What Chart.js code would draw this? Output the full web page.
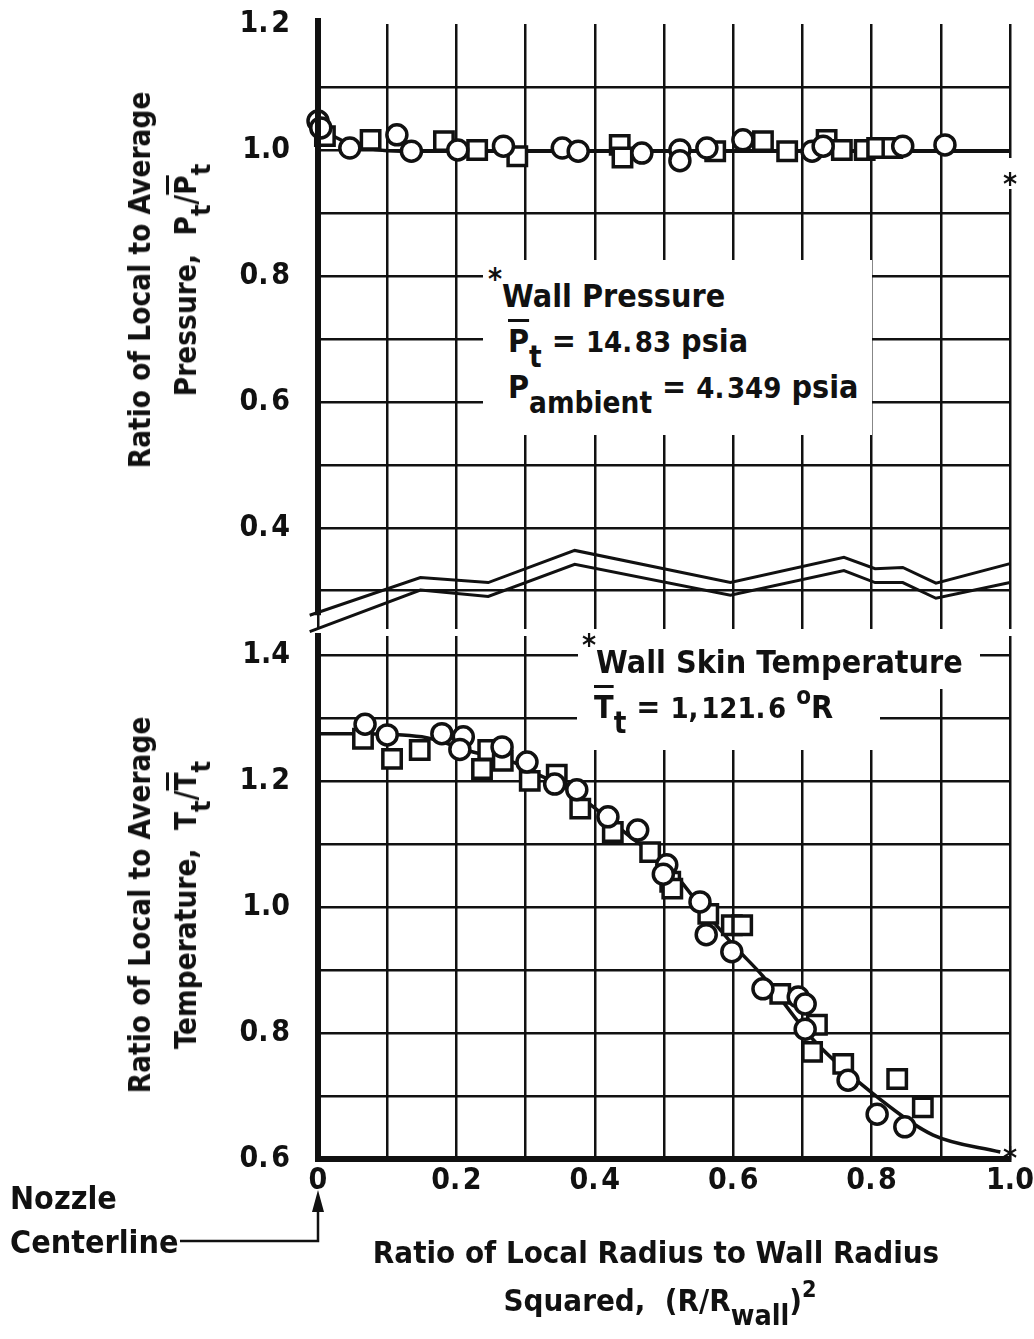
<!DOCTYPE html>
<html>
<head>
<meta charset="utf-8">
<title>Nozzle exit pressure and temperature profiles</title>
<script src="https://cdn.jsdelivr.net/npm/chart.js@4.4.1/dist/chart.umd.min.js"></script>
<style>
  body { margin: 0; background: #fff; }
  #page { position: relative; width: 1034px; height: 1339px; overflow: hidden;
          font-family: 'DejaVu Sans Condensed', 'DejaVu Sans', sans-serif; font-weight: bold; color: #111; }
  .panel { position: absolute; left: 0; width: 1034px; }
  #top { top: 0; height: 645px; }
  #bottom { top: 600px; height: 739px; }
  .txt { position: absolute; white-space: nowrap; font-size: 32px; line-height: 32px; }
  .box { position: absolute; background: #fff; }
  .bar { text-decoration: overline; text-decoration-thickness: 3px; }
  .num { font-size: 29px; }
  sub { font-size: 92%; vertical-align: -0.5em; line-height: 0; }
  sup { font-size: 75%; vertical-align: 0.6em; line-height: 0; }
  .star { font-size: 30px; vertical-align: 0.6em; line-height: 0; }
  .ytitle { position: absolute; transform: translate(-50%, -50%) rotate(-90deg);
            text-align: center; white-space: nowrap; font-size: 29.5px; line-height: 46px; }
  .center { transform: translateX(-50%); }
</style>
</head>
<body>
<div id="page">
  <div class="panel" id="top"><canvas id="pressureChart"></canvas></div>
  <div class="panel" id="bottom"><canvas id="temperatureChart"></canvas></div>

  <!-- axis titles -->
  <div class="ytitle" style="left:163px; top:280px;">Ratio of Local to Average<br>Pressure,&nbsp; P<sub>t</sub>/<span class="bar">P</span><sub>t</sub></div>
  <div class="ytitle" style="left:163px; top:905px;">Ratio of Local to Average<br>Temperature,&nbsp; T<sub>t</sub>/<span class="bar">T</span><sub>t</sub></div>
  <div class="txt center" style="left:656px; top:1236px; font-size:31px;">Ratio of Local Radius to Wall Radius</div>
  <div class="txt center" style="left:660px; top:1284px; font-size:31px;">Squared,&nbsp; (R/R<sub>wall</sub>)<sup>2</sup></div>
  <div class="txt" style="left:10px; top:1182px;">Nozzle</div>
  <div class="txt" style="left:10px; top:1226px;">Centerline</div>

  <!-- wall pressure note -->
  <div class="box" style="left:483px; top:260px; width:389px; height:175px;"></div>
  <div class="txt" style="left:488px; top:279px;"><span class="star">*</span>Wall Pressure</div>
  <div class="txt" style="left:508px; top:325px;"><span class="bar">P</span><sub>t</sub> = <span class="num">14.&#8202;83</span> psia</div>
  <div class="txt" style="left:508px; top:371px;">P<sub>ambient</sub> = <span class="num">4.&#8202;349</span> psia</div>

  <!-- wall temperature note -->
  <div class="box" style="left:578px; top:633px; width:402px; height:56px;"></div>
  <div class="box" style="left:577px; top:688px; width:303px; height:62px;"></div>
  <div class="txt" style="left:582px; top:645px;"><span class="star">*</span>Wall Skin Temperature</div>
  <div class="txt" style="left:594px; top:691px;"><span class="bar">T</span><sub>t</sub> = <span class="num">1,&#8202;121.&#8202;6</span> <sup>o</sup>R</div>

  <!-- wall point markers at (R/Rwall)^2 = 1 -->
  <div class="box" style="left:1002px; top:158px; width:20px; height:31px;"></div>
  <div class="txt" style="left:1003px; top:168px; font-size:30px;">*</div>
  <div class="txt" style="left:1003px; top:1142px; font-size:30px;">*</div>
</div>

<script>
// (R/Rwall)^2 and Pt/Pt-bar, circle symbols
const pressureCircleX = [0.0, 0.004, 0.046, 0.114, 0.135, 0.202, 0.268, 0.353, 0.376, 0.468, 0.523, 0.523, 0.562, 0.614, 0.714, 0.73, 0.845, 0.906];
const pressureCircleY = [1.046, 1.035, 1.003, 1.024, 0.998, 1.0, 1.006, 1.003, 0.998, 0.995, 1.0, 0.983, 1.003, 1.016, 0.998, 1.006, 1.006, 1.008];
// square symbols
const pressureSquareX = [0.01, 0.076, 0.182, 0.23, 0.288, 0.436, 0.44, 0.574, 0.643, 0.678, 0.735, 0.757, 0.79, 0.808, 0.83];
const pressureSquareY = [1.022, 1.016, 1.014, 1.0, 0.99, 1.008, 0.988, 0.998, 1.014, 0.998, 1.016, 1.0, 1.0, 1.003, 1.003];
// faired curve
const pressureFitX = [0.0, 0.05, 0.12, 1.0];
const pressureFitY = [1.035, 1.008, 0.998, 0.998];

// Tt/Tt-bar, circle symbols
const tempCircleX = [0.068, 0.1, 0.179, 0.21, 0.205, 0.266, 0.302, 0.342, 0.374, 0.419, 0.462, 0.504, 0.499, 0.552, 0.561, 0.598, 0.643, 0.694, 0.704, 0.704, 0.766, 0.808, 0.848];
const tempCircleY = [1.29, 1.273, 1.275, 1.27, 1.25, 1.254, 1.23, 1.195, 1.186, 1.143, 1.122, 1.067, 1.052, 1.008, 0.956, 0.929, 0.87, 0.857, 0.846, 0.806, 0.725, 0.671, 0.651];
// square symbols
const tempSquareX = [0.065, 0.107, 0.147, 0.237, 0.246, 0.267, 0.306, 0.345, 0.379, 0.426, 0.48, 0.509, 0.512, 0.564, 0.598, 0.613, 0.668, 0.721, 0.714, 0.759, 0.837, 0.874];
const tempSquareY = [1.267, 1.235, 1.249, 1.219, 1.249, 1.232, 1.2, 1.21, 1.156, 1.119, 1.087, 1.04, 1.029, 0.989, 0.971, 0.971, 0.862, 0.813, 0.77, 0.751, 0.727, 0.682];
// faired curve
const tempFitX = [0.0, 0.056, 0.15, 0.224, 0.282, 0.311, 0.368, 0.407, 0.455, 0.504, 0.55, 0.6, 0.643, 0.715, 0.812, 0.889, 0.986];
const tempFitY = [1.275, 1.275, 1.27, 1.246, 1.23, 1.214, 1.183, 1.151, 1.108, 1.067, 1.005, 0.94, 0.89, 0.79, 0.695, 0.638, 0.611];

// grid and tick labels
const xGrid = [0, 0.1, 0.2, 0.3, 0.4, 0.5, 0.6, 0.7, 0.8, 0.9, 1.0];
const xTickLabels = ['0', '', '0.\u200a2', '', '0.\u200a4', '', '0.\u200a6', '', '0.\u200a8', '', '1.0'];
const pressureGrid = [0.3, 0.4, 0.5, 0.6, 0.7, 0.8, 0.9, 1.0, 1.1, 1.2];
const pressureTickLabels = ['', '0.\u200a4', '', '0.\u200a6', '', '0.\u200a8', '', '1.0', '', '1.\u200a2'];
const tempGrid = [0.6, 0.7, 0.8, 0.9, 1.0, 1.1, 1.2, 1.3, 1.4];
const tempTickLabels = ['0.\u200a6', '', '0.\u200a8', '', '1.0', '', '1.\u200a2', '', '1.4'];

// broken-axis zigzag, in pressure-axis units
const breakX = [-0.012, 0.148, 0.246, 0.371, 0.596, 0.76, 0.805, 0.845, 0.893, 1.0];
const breakUpperY = [0.261, 0.321, 0.313, 0.364, 0.313, 0.353, 0.335, 0.337, 0.312, 0.343];
const breakLowerY = [0.235, 0.301, 0.291, 0.342, 0.293, 0.332, 0.313, 0.313, 0.288, 0.313];

const ink = '#111';
const zip = (xs, ys) => xs.map((x, i) => ({ x: x, y: ys[i] }));

Chart.defaults.font.family = "'DejaVu Sans Condensed', 'DejaVu Sans', sans-serif";
Chart.defaults.font.size = 30;
Chart.defaults.font.weight = 'bold';
Chart.defaults.color = ink;
Chart.defaults.animation = false;

function symbols(label, xs, ys, style, radius) {
    return {
        label: label,
        data: zip(xs, ys),
        pointStyle: style,
        pointRadius: radius,
        borderWidth: 3.5,
        borderColor: ink,
        backgroundColor: '#fff',
        clip: false
    };
}

function curve(xs, ys) {
    return {
        label: 'faired',
        data: zip(xs, ys),
        showLine: true,
        pointRadius: 0,
        borderWidth: 3.5,
        borderColor: ink,
        cubicInterpolationMode: 'monotone',
        clip: false
    };
}

function gridAxis(values) {
    return s => { s.ticks = values.map(v => ({ value: v })); };
}

// fixed axis box: no extra room reserved for edge labels
function fixSize(w, h) {
    return s => {
        if (w !== null) s.width = w;
        if (h !== null) s.height = h;
        s.paddingTop = s.paddingBottom = s.paddingLeft = s.paddingRight = 0;
    };
}

// left axis of the upper panel stops at the break, then the two zigzags
const breakPlugin = {
    id: 'axisBreak',
    afterDraw(chart) {
        const { ctx, scales: { x, y } } = chart;
        const x0 = x.getPixelForValue(0);
        ctx.save();
        ctx.strokeStyle = ink;
        ctx.lineWidth = 6;
        ctx.beginPath();
        ctx.moveTo(x0, y.getPixelForValue(1.2) - 6);
        ctx.lineTo(x0, y.getPixelForValue(breakUpperY[0]));
        ctx.stroke();
        ctx.lineWidth = 3;
        [breakUpperY, breakLowerY].forEach(ys => {
            ctx.beginPath();
            breakX.forEach((v, i) => {
                const px = x.getPixelForValue(v), py = y.getPixelForValue(ys[i]);
                if (i) ctx.lineTo(px, py); else ctx.moveTo(px, py);
            });
            ctx.stroke();
        });
        ctx.restore();
    }
};

// "Nozzle Centerline" leader with arrow under the zero tick
const leaderPlugin = {
    id: 'centerlineLeader',
    afterDraw(chart) {
        const { ctx, scales: { x } } = chart;
        const x0 = x.getPixelForValue(0);
        const yLine = 641, yTip = 590;
        ctx.save();
        ctx.strokeStyle = ink;
        ctx.fillStyle = ink;
        ctx.lineWidth = 2.5;
        ctx.beginPath();
        ctx.moveTo(180, yLine);
        ctx.lineTo(x0, yLine);
        ctx.lineTo(x0, yTip + 18);
        ctx.stroke();
        ctx.beginPath();
        ctx.moveTo(x0, yTip);
        ctx.lineTo(x0 - 6, yTip + 22);
        ctx.lineTo(x0 + 6, yTip + 22);
        ctx.closePath();
        ctx.fill();
        ctx.restore();
    }
};

const gridLine = { color: ink, lineWidth: 2.5, drawTicks: false };

new Chart(document.getElementById('pressureChart'), {
    type: 'scatter',
    data: {
        datasets: [
            symbols('circles', pressureCircleX, pressureCircleY, 'circle', 10),
            symbols('squares', pressureSquareX, pressureSquareY, 'rect', 13),
            curve(pressureFitX, pressureFitY)
        ]
    },
    options: {
        responsive: true,
        maintainAspectRatio: false,
        events: [],
        layout: { padding: { top: 24, right: 24, bottom: 11, left: 0 } },
        plugins: { legend: { display: false }, tooltip: { enabled: false } },
        scales: {
            x: {
                type: 'linear', min: 0, max: 1,
                afterBuildTicks: gridAxis(xGrid),
                afterFit: fixSize(null, 0),
                ticks: { display: false },
                grid: gridLine,
                border: { display: false }
            },
            y: {
                type: 'linear', min: 0.24, max: 1.2,
                afterBuildTicks: gridAxis(pressureGrid),
                afterFit: fixSize(318, null),
                ticks: { padding: 28, callback: (v, i) => pressureTickLabels[i] },
                grid: {
                    color: c => (c.tick && c.tick.value === 1.2) ? 'rgba(0,0,0,0)' : ink,
                    lineWidth: 2.5,
                    drawTicks: false
                },
                border: { display: false }
            }
        }
    },
    plugins: [breakPlugin]
});

new Chart(document.getElementById('temperatureChart'), {
    type: 'scatter',
    data: {
        datasets: [
            symbols('circles', tempCircleX, tempCircleY, 'circle', 10),
            symbols('squares', tempSquareX, tempSquareY, 'rect', 13),
            curve(tempFitX, tempFitY)
        ]
    },
    options: {
        responsive: true,
        maintainAspectRatio: false,
        events: [],
        layout: { padding: { top: 36, right: 24, bottom: 0, left: 0 } },
        plugins: { legend: { display: false }, tooltip: { enabled: false } },
        scales: {
            x: {
                type: 'linear', min: 0, max: 1,
                afterBuildTicks: gridAxis(xGrid),
                afterFit: fixSize(null, 180),
                ticks: { padding: 4, maxRotation: 0, autoSkip: false, callback: (v, i) => xTickLabels[i] },
                grid: gridLine,
                border: { display: true, width: 6, color: ink }
            },
            y: {
                type: 'linear', min: 0.6, max: 1.43,
                afterBuildTicks: gridAxis(tempGrid),
                afterFit: fixSize(318, null),
                ticks: { padding: 28, callback: (v, i) => tempTickLabels[i] },
                grid: gridLine,
                border: { display: true, width: 6, color: ink }
            }
        }
    },
    plugins: [leaderPlugin]
});
</script>
</body>
</html>
